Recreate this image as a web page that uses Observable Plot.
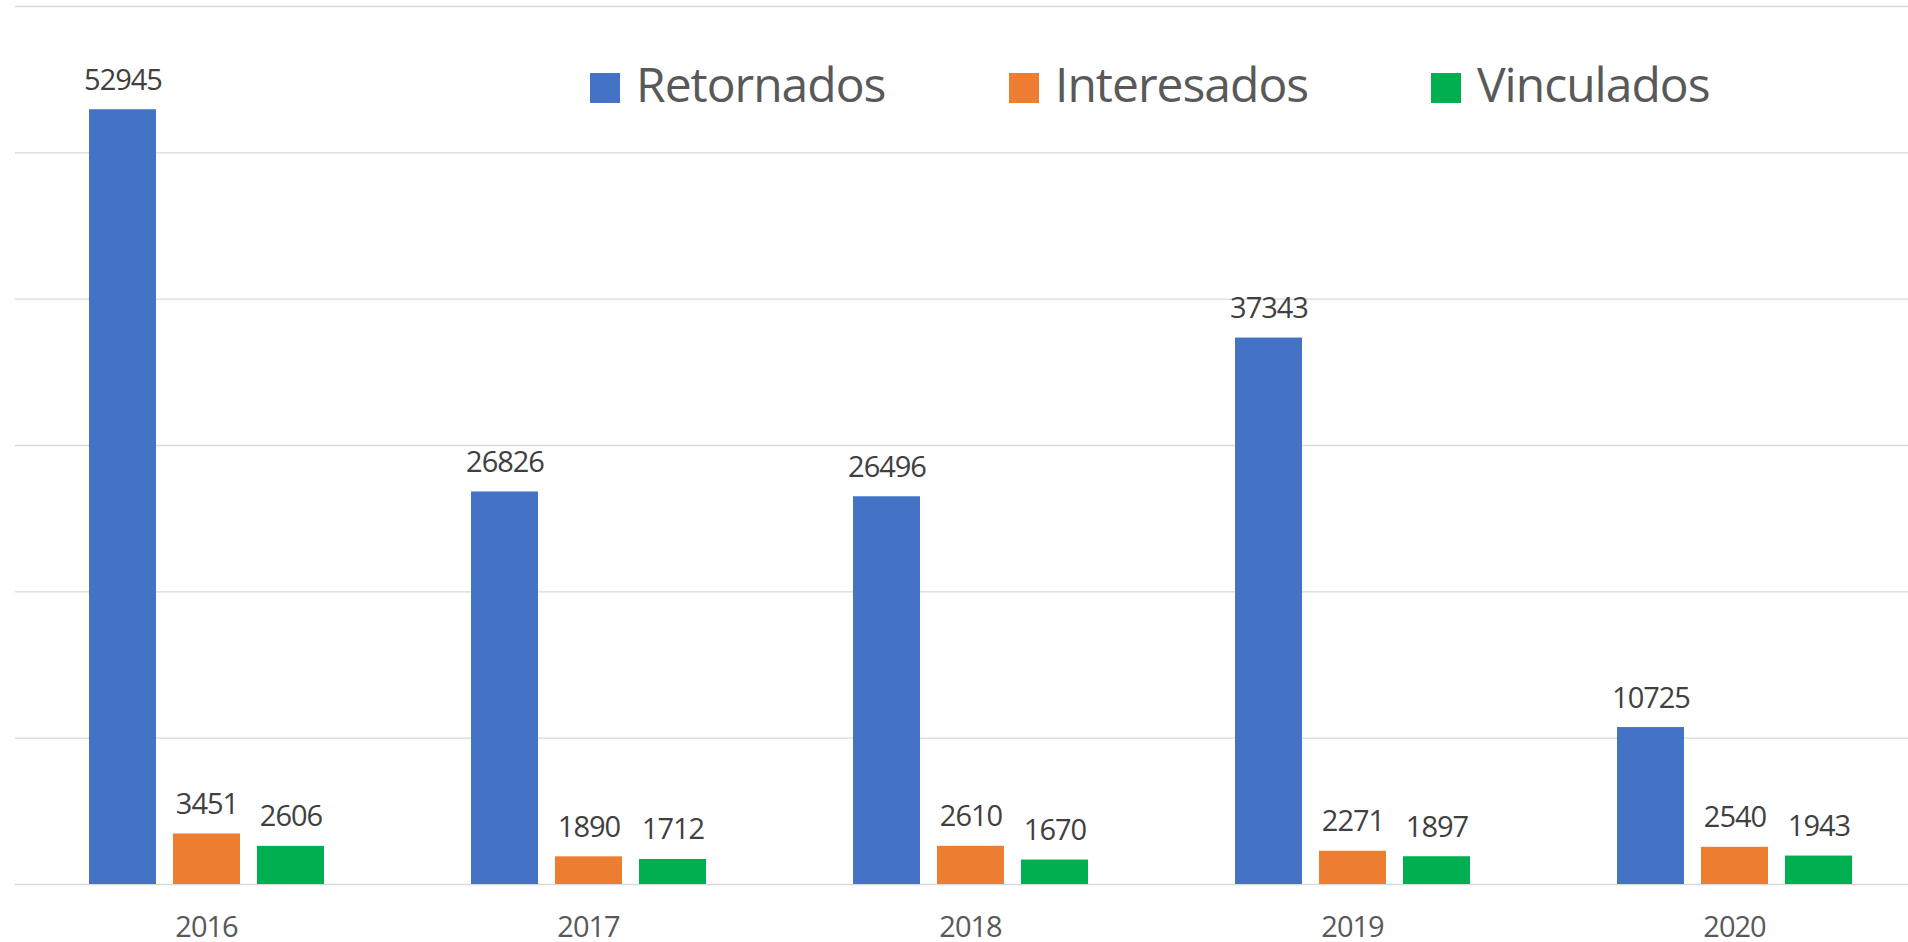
<!DOCTYPE html>
<html><head><meta charset="utf-8">
<script src="https://cdn.jsdelivr.net/npm/d3@7"></script>
<script src="https://cdn.jsdelivr.net/npm/@observablehq/plot@0.6"></script>
<style>
html,body{margin:0;padding:0;background:#fff;overflow:hidden}
#wrap{position:relative;width:1908px;height:942px}
#legend{position:absolute;left:0;top:0;font-family:"Open Sans",sans-serif;color:#595959;font-size:48px;letter-spacing:-1px}
.sw{position:absolute;width:30px;height:30px;top:73px}
.lt{position:absolute;top:60px;line-height:48px;white-space:nowrap}
</style></head><body><div id="wrap"><div id="legend"></div></div>
<script>
const years = ["2016","2017","2018","2019","2020"];
const series = ["Retornados","Interesados","Vinculados"];
const retornados = [52945,26826,26496,37343,10725];
const interesados = [3451,1890,2610,2271,2540];
const vinculados = [2606,1712,1670,1897,1943];
const colors = ["#4472C4","#ED7D31","#00B050"];
const yTicks = [0,10000,20000,30000,40000,50000,60000];
const legendLeft = [590,1009,1431];

const values = [retornados, interesados, vinculados];
const data = years.flatMap((year,i)=>series.map((s,j)=>({year, series:s, value:values[j][i]})));

const chart = Plot.plot({
  width: 1908, height: 942,
  marginTop: 6, marginBottom: 58, marginLeft: 0, marginRight: 0,
  style: {background:"#fff", fontFamily:"'Open Sans', sans-serif", fontSize:"29px", letterSpacing:"-1px", color:"#595959", overflow:"visible"},
  fx: {domain: years, range:[15,1925], padding:0, label:null, axis:"bottom", tickSize:0, tickPadding:32},
  x: {domain: series, paddingInner:0.207, paddingOuter:0.864, axis:null},
  y: {domain:[0,60000], axis:null},
  color: {domain: series, range: colors},
  marks: [
    Plot.ruleY(yTicks, {stroke:"#d9d9d9", strokeWidth:1.4}),
    Plot.barY(data, {fx:"year", x:"series", y:"value", fill:"series"}),
    Plot.text(data, {fx:"year", x:"series", y:"value", text:d=>String(d.value), lineAnchor:"bottom", dy:-20, fill:"#404040", fontSize:29})
  ]
});
document.getElementById("wrap").prepend(chart);

const legend = document.getElementById("legend");
series.forEach((s,i)=>{
  const sw = document.createElement("div");
  sw.className = "sw"; sw.style.background = colors[i];
  sw.style.left = legendLeft[i] + "px";
  const t = document.createElement("div");
  t.className = "lt"; t.textContent = s;
  t.style.left = (legendLeft[i] + 46) + "px";
  legend.append(sw, t);
});
</script></body></html>
